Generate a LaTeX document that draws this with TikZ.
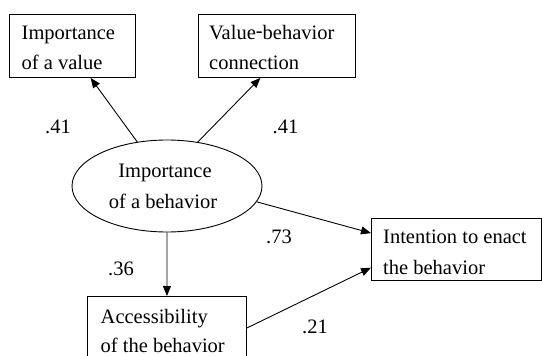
\documentclass[tikz,border=0pt]{standalone}
\usepackage{fontspec}
\setmainfont{Liberation Serif}
\usetikzlibrary{arrows.meta,calc,shapes.geometric}
\begin{document}
\begin{tikzpicture}[x=1pt,y=-1pt,
  box/.style={draw,line width=0.9pt,rectangle,inner sep=0pt,anchor=north west},
  oval/.style={draw,line width=0.9pt,ellipse,inner sep=0pt,minimum width=190pt,minimum height=92pt},
  txt/.style={anchor=base west,inner sep=0pt,font=\fontsize{20.5}{24}\selectfont},
  ctxt/.style={anchor=base,inner sep=0pt,font=\fontsize{20.5}{24}\selectfont},
  conn/.style={line width=0.9pt,-{Triangle[length=10pt,width=8pt]}}]
\useasboundingbox (0,0) rectangle (542,356);
% boxes
\node[box,minimum width=126pt,minimum height=63pt] (val) at (9,14) {};
\node[box,minimum width=157pt,minimum height=63pt] (vbc) at (198,14) {};
\node[oval] (imp) at (167,186) {};
\node[box,minimum width=170pt,minimum height=62pt] (int) at (371,218) {};
\node[box,minimum width=159pt,minimum height=80pt] (acc) at (87,296) {};
% texts
\node[txt] (t1) at (21.5,39) {Importance};
\node[txt] (t2) at (21.5,70) {of a value};
\node[txt] (t3) at (209,39) {Value\raisebox{1.5pt}{-}behavior};
\node[txt] (t4) at (209,70) {connection};
\node[ctxt] (t5) at (165,177) {Importance};
\node[ctxt] (t6) at (163,208) {of a behavior};
\node[txt] (t7) at (383,243) {Intention to enact};
\node[txt] (t8) at (383,274) {the behavior};
\node[txt] (t9) at (100.5,323) {Accessibility};
\node[txt] (t10) at (100.5,352) {of the behavior};
% coefficient labels
\node[ctxt] (l1) at (58,133) {.41};
\node[ctxt] (l2) at (285.5,133) {.41};
\node[ctxt] (l3) at (279,243) {.73};
\node[ctxt] (l4) at (121,275) {.36};
\node[ctxt] (l5) at (315,333) {.21};
% connectors
\draw[conn] (imp.124.6) -- ($(val.south west)!0.643!(val.south east)$);
\draw[conn] (imp.55.4) -- ($(vbc.south west)!0.395!(vbc.south east)$);
\draw[conn] (imp.-10) -- ($(int.north west)!0.24!(int.south west)$);
\draw[conn] (imp.south) -- (acc.north);
\draw[conn] ($(acc.north east)+(0,32)$) -- ($(int.north west)!0.79!(int.south west)$);
\end{tikzpicture}
\end{document}
